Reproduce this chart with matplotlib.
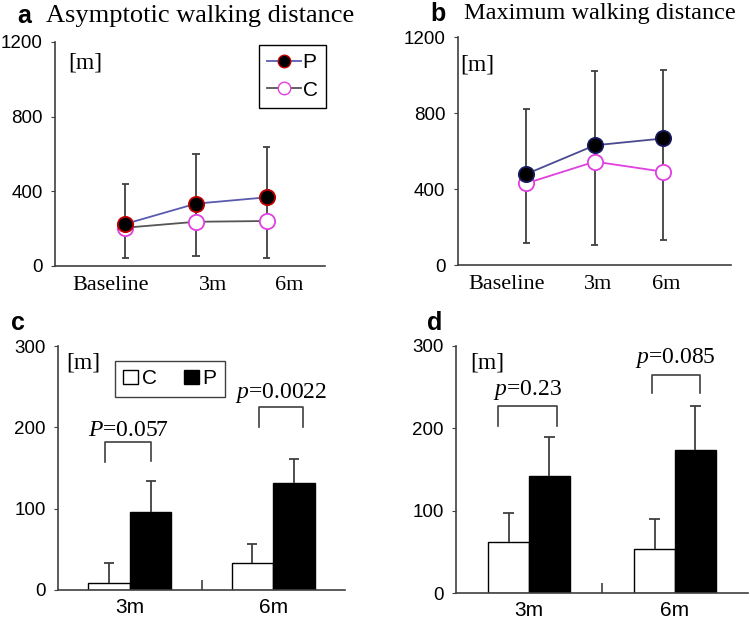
import numpy as np
import matplotlib
matplotlib.use("Agg")
import matplotlib.pyplot as plt
from matplotlib.lines import Line2D
from matplotlib.patches import Patch

W, H = 750, 619
SERIF = "Liberation Serif"
SANS = "Liberation Sans"
AXC = "#404040"

# ---- data ----
time_labels = ["Baseline", "3m", "6m"]

# a: asymptotic walking distance
a_P = [225, 334, 368]
a_C = [205, 237, 241]
a_err_lo = [45, 54, 45]
a_err_hi = [437, 600, 637]

# b: maximum walking distance
b_P = [479, 630, 666]
b_C = [430, 544, 491]
b_err_lo = [117, 105, 131]
b_err_hi = [819, 1021, 1026]

# c / d: change from baseline
bar_labels = ["3m", "6m"]
c_C = [9, 33]
c_C_sd = [24, 24]
c_P = [96, 132]
c_P_sd = [38, 29]
c_pvals = ["$P$=0.057", "$p$=0.0022"]

d_C = [62, 54]
d_C_sd = [35, 36]
d_P = [142, 174]
d_P_sd = [48, 53]
d_pvals = ["$p$=0.23", "$p$=0.085"]

plt.rcParams["mathtext.fontset"] = "custom"
plt.rcParams["mathtext.it"] = "Liberation Serif:italic"
plt.rcParams["mathtext.rm"] = "Liberation Serif"

fig = plt.figure(figsize=(W / 100, H / 100), dpi=100)


def px_axes(l, t, r, b):
    return fig.add_axes([l / W, 1 - b / H, (r - l) / W, (b - t) / H])


def style(ax):
    for s in ("top", "right"):
        ax.spines[s].set_visible(False)
    for s in ("left", "bottom"):
        ax.spines[s].set_color(AXC)
        ax.spines[s].set_linewidth(1.2)
    ax.tick_params(axis="y", direction="out", length=3, color=AXC,
                   labelsize=13.5, pad=6)
    for t in ax.get_yticklabels():
        t.set_fontfamily(SANS)
    ax.set_facecolor("none")


def line_panel(ax, P, C, lo, hi, ylab_pos, p_line, p_edge, c_line):
    x = np.arange(len(P))
    ax.vlines(x, lo, hi, color=AXC, lw=1.3, zorder=1)
    ax.hlines(lo, x - 0.05, x + 0.05, color=AXC, lw=1.3, zorder=1)
    ax.hlines(hi, x - 0.05, x + 0.05, color=AXC, lw=1.3, zorder=1)
    ax.plot(x, C, color=c_line, lw=1.3, marker="o", ms=11, mfc="white",
            mec="#e040e0", mew=1.3, zorder=2, label="C")
    ax.plot(x, P, color=p_line, lw=1.3, marker="o", ms=11, mfc="black",
            mec=p_edge, mew=1.3, zorder=3, label="P")
    ax.set_ylim(0, 1200)
    ax.set_yticks([0, 400, 800, 1200])
    style(ax)
    ax.tick_params(axis="x", length=0, labelsize=16, pad=7)
    ax.set_xticks(ylab_pos)
    ax.set_xticklabels(time_labels, fontfamily=SERIF)


# panel a
axa = px_axes(55, 42, 325, 266)
line_panel(axa, a_P, a_C, a_err_lo, a_err_hi, [-0.21, 1.24, 2.32],
           "#5a5ab0", "#c00000", "#555555")
axa.set_xlim(-0.99, 2.82)
axa.text(0.05, 0.905, "[m]", transform=axa.transAxes, fontfamily=SERIF,
         fontsize=17, va="center")
hP = Line2D([], [], color="#5a5ab0", lw=1.3, marker="o", ms=9, mfc="black",
            mec="#c00000")
hC = Line2D([], [], color="#555555", lw=1.3, marker="o", ms=9, mfc="white",
            mec="#e040e0")
leg = axa.legend([hP, hC], ["P", "C"], loc="upper right",
                 bbox_to_anchor=(1.004, 0.987), borderaxespad=0,
                 fancybox=False, edgecolor="black", framealpha=1,
                 prop={"family": SANS, "size": 15}, handlelength=1.6,
                 handletextpad=0.1, borderpad=0.4, labelspacing=0.4)
leg.get_frame().set_linewidth(1.0)

# panel b
axb = px_axes(458, 37, 731, 265)
line_panel(axb, b_P, b_C, b_err_lo, b_err_hi, [-0.29, 1.05, 2.05],
           "#4a4a90", "#1a1a60", "#e040e0")
axb.set_xlim(-1.0, 2.99)
axb.text(0.01, 0.875, "[m]", transform=axb.transAxes, fontfamily=SERIF,
         fontsize=17, va="center")


def bar_panel(ax, C, Csd, P, Psd, pvals, brackets, width):
    x = np.arange(len(C))
    ax.bar(x - width / 2, C, width, color="white", edgecolor="black", lw=1.0,
           zorder=2)
    ax.bar(x + width / 2, P, width, color="black", edgecolor="black", lw=1.0,
           zorder=2)
    # upward-only error bars
    for xs, m, sd in ((x - width / 2, C, Csd), (x + width / 2, P, Psd)):
        top = np.array(m) + np.array(sd)
        ax.vlines(xs, m, top, color=AXC, lw=1.3, zorder=3)
        ax.hlines(top, xs - 0.035, xs + 0.035, color=AXC, lw=1.3, zorder=3)
    for (x0, x1, ytop, yl, yr, ytxt), txt in zip(brackets, pvals):
        ax.plot([x0, x0, x1, x1], [yl, ytop, ytop, yr], color=AXC, lw=1.2)
        ax.text((x0 + x1) / 2, ytxt, txt, ha="center", va="center",
                fontfamily=SERIF, fontsize=17)
    ax.set_ylim(0, 300)
    ax.set_yticks([0, 100, 200, 300])
    ax.set_xlim(-0.5, 1.5)
    ax.set_xticks(x)
    ax.set_xticklabels(bar_labels, fontfamily=SANS)
    style(ax)
    ax.tick_params(axis="x", length=0, labelsize=15, pad=6)
    ax.set_xticks([0.5], minor=True)
    ax.tick_params(axis="x", which="minor", direction="in", length=7,
                   color=AXC, width=1.2)


# panel c
axc = px_axes(58, 346, 345, 590)
bar_panel(axc, c_C, c_C_sd, c_P, c_P_sd, c_pvals,
          [(-0.17, 0.15, 182, 157, 158, 196), (0.9, 1.21, 225, 201, 201, 242)],
          0.29)
axc.text(0.03, 0.93, "[m]", transform=axc.transAxes, fontfamily=SERIF,
         fontsize=17, va="center")
hCb = Patch(facecolor="white", edgecolor="black", lw=1.0)
hPb = Patch(facecolor="black", edgecolor="black", lw=1.0)
legc = axc.legend([hCb, hPb], ["C", "P"], loc="upper left", ncol=2,
                  bbox_to_anchor=(0.198, 0.939), borderaxespad=0,
                  fancybox=False, edgecolor=AXC, framealpha=1,
                  prop={"family": SANS, "size": 15}, handlelength=0.7,
                  handleheight=0.7, handletextpad=0.2, columnspacing=1.3,
                  borderpad=0.4)
legc.get_frame().set_linewidth(1.0)

# panel d
axd = px_axes(456, 346, 748, 593)
bar_panel(axd, d_C, d_C_sd, d_P, d_P_sd, d_pvals,
          [(-0.21, 0.19, 227, 203, 203, 247), (0.84, 1.17, 265, 243, 243, 285)],
          0.28)
axd.text(0.05, 0.93, "[m]", transform=axd.transAxes, fontfamily=SERIF,
         fontsize=17, va="center")

# panel titles
def ptext(x, y, s, **kw):
    fig.text(x / W, 1 - y / H, s, va="center", **kw)


ptext(17, 16, "a", fontfamily=SANS, fontweight="bold", fontsize=18)
ptext(46, 16, "Asymptotic walking distance", fontfamily=SERIF, fontsize=19)
ptext(430, 14, "b", fontfamily=SANS, fontweight="bold", fontsize=18)
ptext(464, 14, "Maximum walking distance", fontfamily=SERIF, fontsize=17.5)
ptext(11, 323, "c", fontfamily=SANS, fontweight="bold", fontsize=18)
ptext(427, 323, "d", fontfamily=SANS, fontweight="bold", fontsize=18)

fig.savefig("out.png", dpi=100)
